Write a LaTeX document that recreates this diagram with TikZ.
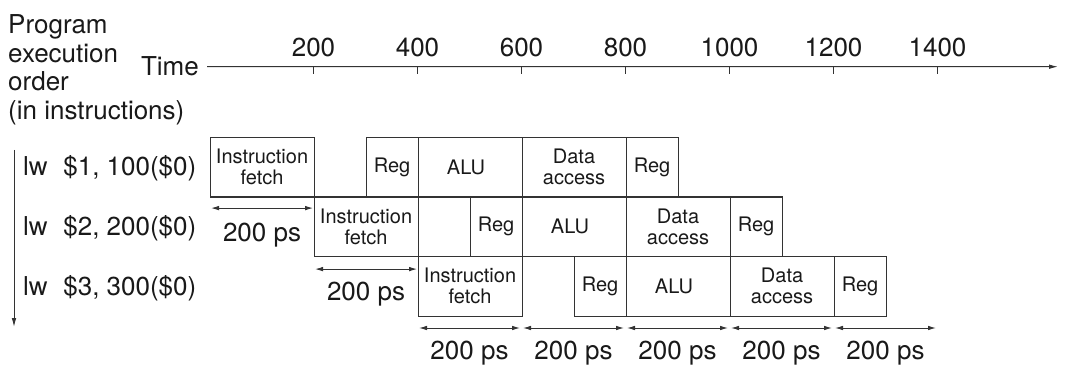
\documentclass[tikz,border=0pt]{standalone}
\usepackage{fontspec}
\setmainfont{TeX Gyre Heros}
\usetikzlibrary{arrows.meta,calc}
\begin{document}
\begin{tikzpicture}[x=1pt,y=-1pt,
  big/.style={font=\fontsize{26}{28.5}\selectfont, inner sep=0pt, text=black!90},
  stagebox/.style={draw=black!80, line width=1.1pt, inner sep=0pt, minimum height=59.5pt,
    anchor=north west, align=center, font=\fontsize{20}{21}\selectfont, text=black!90},
  dimarrow/.style={{Latex[length=8pt,width=4.6pt]}-{Latex[length=8pt,width=4.6pt]},
    line width=1pt, draw=black!80, shorten >=1.5pt, shorten <=1.5pt},
  axisline/.style={line width=1pt, draw=black!80},
]
\useasboundingbox (0,0) rectangle (1065,371);

% left caption and time label
\node[big, anchor=north west, align=left] (peo) at (8,14.5)
  {Program\\execution\\order\\(in instructions)};
\node[big, anchor=base east] (time) at (199,76) {Time};

% time axis
\coordinate (axend) at (1058,66.7);
\draw[axisline, -{Latex[length=9pt,width=4.6pt]}] ([xshift=8pt]time.east) -- (axend);
\foreach \k/\t in {1/200,2/400,3/600,4/800,5/1000,6/1200,7/1400} {
  \coordinate (t\k) at ({209.5+104*\k},66.7);
  \draw[axisline] (t\k) -- ++(0,7);
  \node[big, anchor=base] (tl\k) at ($(t\k)+(0,-9.7)$) {\t};
}

% order arrow
\coordinate (o0) at (14,150);
\coordinate (o1) at (14,327);
\draw[axisline, -{Latex[length=9pt,width=4.6pt]}] (o0) -- (o1);

% pipeline rows
\foreach \r/\top/\n in {0/137/1,1/196.5/2,2/256/3} {
  \pgfmathsetmacro\a{209.5+104*\r}
  \node[stagebox, minimum width=104pt] (if\r) at (\a,\top) {Instruction\\fetch};
  \node[stagebox, minimum width=52pt] (rr\r) at (\a+156,\top) {Reg};
  \node[stagebox, minimum width=104pt] (alu\r) at (\a+208,\top) {ALU\hspace*{8pt}};
  \node[stagebox, minimum width=104pt] (da\r) at (\a+312,\top) {Data\\access};
  \node[stagebox, minimum width=52pt] (rw\r) at (\a+416,\top) {Reg};
  \node[big, anchor=base west] (lw\r) at (23,\top+39) {lw\hspace{0.6em}\$\n, \n00(\$0)};
}

% 200 ps under first two fetches
\draw[dimarrow] ([yshift=-10.5pt]if0.south west) -- ([yshift=-10.5pt]if0.south east);
\node[big, anchor=base] (ps0) at ($(if0.south)+(0,43.5)$) {200 ps};
\draw[dimarrow] ([yshift=-12pt]if1.south west) -- ([yshift=-12pt]if1.south east);
\node[big, anchor=base] (ps1) at ($(if1.south)+(0,43)$) {200 ps};

% bottom 200 ps arrows
\foreach \k in {2,...,7} {
  \coordinate (b\k) at ({209.5+104*\k},328);
}
\foreach \k in {2,...,6} {
  \pgfmathtruncatemacro\j{\k+1}
  \draw[dimarrow] (b\k) -- (b\j);
  \node[big, anchor=base] (bl\k) at ($(b\k)!0.5!(b\j)+(0,31)$) {200 ps};
}
\end{tikzpicture}
\end{document}
